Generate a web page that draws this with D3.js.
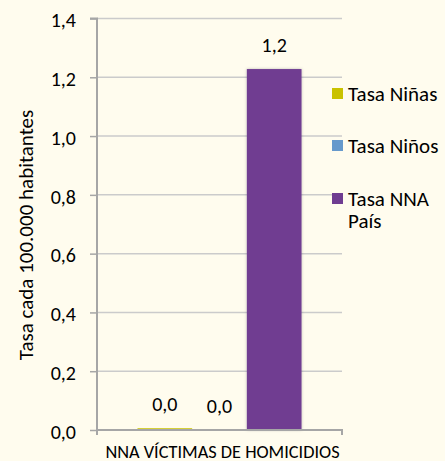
<!DOCTYPE html>
<html>
<head>
<meta charset="utf-8">
<script src="https://cdn.jsdelivr.net/npm/d3@7"></script>
<style>
html,body{margin:0;padding:0;background:#fffcee;}
svg{display:block;}
text{font-family:Carlito, Calibri, sans-serif;fill:#000;}
</style>
</head>
<body>
<svg id="chart" width="445" height="461"></svg>
<script>
const categories = ["NNA VÍCTIMAS DE HOMICIDIOS"];
const seriesNames = ["Tasa Niñas", "Tasa Niños", "Tasa NNA País"];
const seriesValues = [0.006, 0.0, 1.228];
const valueLabels = ["0,0", "0,0", "1,2"];
const yTicks = [0, 0.2, 0.4, 0.6, 0.8, 1.0, 1.2, 1.4];
const yTickLabels = ["0,0", "0,2", "0,4", "0,6", "0,8", "1,0", "1,2", "1,4"];
const colors = ["#c9c200", "#6699cc", "#6f3c91"];
const yTitle = "Tasa cada 100.000 habitantes";

(function () {
const FONT = "Carlito, Calibri, sans-serif";
const svg = d3.select("#chart");
svg.append("rect").attr("width", 445).attr("height", 461).attr("fill", "#fffcee");

const pL = 97, pR = 342, pT = 18.5, pB = 430;
const y = d3.scaleLinear().domain([0, 1.4]).range([pB, pT]);
const x0 = d3.scaleBand().domain(categories).range([pL, pR]).padding(0);
const x1 = d3.scaleBand().domain(seriesNames).range([0, x0.bandwidth()]).paddingInner(0).paddingOuter(0.74);

// gridlines
svg.append("g").selectAll("line").data(yTicks.filter(d => d > 0)).join("line")
  .attr("x1", pL).attr("x2", pR)
  .attr("y1", d => y(d)).attr("y2", d => y(d))
  .attr("stroke", "#cbcbcb").attr("stroke-width", 1.5);

// y axis
const yAxis = d3.axisLeft(y).tickValues(yTicks).tickFormat((d, i) => yTickLabels[i]).tickSize(7).tickPadding(14);
const gy = svg.append("g").attr("transform", `translate(${pL},0)`).call(yAxis);
gy.select(".domain").attr("stroke", "#a6a6a6").attr("stroke-width", 2).attr("d", `M-7,${pT}H0V${pB}`);
gy.selectAll(".tick line").attr("stroke", "#a6a6a6").attr("stroke-width", 1.5);
gy.selectAll(".tick text").style("font-family", FONT).style("font-size", "20px").attr("fill", "#000").attr("dy", "0.415em");

// bars
const defs = svg.append("defs");
const f = defs.append("filter").attr("id", "sh").attr("x", "-20%").attr("y", "-5%").attr("width", "140%").attr("height", "110%");
f.append("feDropShadow").attr("dx", 0).attr("dy", 0).attr("stdDeviation", 1.5).attr("flood-color", "#000").attr("flood-opacity", 0.25);

const g = svg.append("g").selectAll("g").data(categories).join("g")
  .attr("transform", d => `translate(${x0(d)},0)`);
g.selectAll("rect").data(seriesNames.map((s, i) => ({s, v: seriesValues[i], c: colors[i]}))).join("rect")
  .attr("x", d => x1(d.s)).attr("width", x1.bandwidth())
  .attr("y", d => y(d.v)).attr("height", d => y(0) - y(d.v))
  .attr("fill", d => d.c).attr("filter", d => d.v > 0.5 ? "url(#sh)" : null);

// x axis
const xAxis = d3.axisBottom(x0).tickSize(0);
const gx = svg.append("g").attr("transform", `translate(0,${pB})`).call(xAxis);
gx.select(".domain").attr("stroke", "#a6a6a6").attr("stroke-width", 2).attr("d", `M${pL},5V0H${pR}V5`);
gx.selectAll(".tick text").style("font-family", FONT).style("font-size", "18.3px").attr("fill", "#000")
  .attr("x", 3).attr("y", 28).attr("dy", 0);

// value labels
g.selectAll("text.vl").data(seriesNames.map((s, i) => ({s, v: seriesValues[i], l: valueLabels[i]}))).join("text")
  .attr("class", "vl")
  .attr("x", d => x1(d.s) + x1.bandwidth() / 2)
  .attr("y", d => y(d.v) - 17)
  .attr("text-anchor", "middle").style("font-size", "20px")
  .text(d => d.l);

// y title
svg.append("text")
  .attr("transform", `translate(33,235) rotate(-90)`)
  .attr("text-anchor", "middle").style("font-size", "21px")
  .text(yTitle);

// legend
const legendY = [93.5, 145.5, 198.5];
const lg = svg.append("g");
seriesNames.forEach((s, i) => {
  lg.append("rect").attr("x", 332).attr("y", legendY[i] - 5.5).attr("width", 11).attr("height", 11).attr("fill", colors[i]);
  const words = s === "Tasa NNA País" ? ["Tasa NNA", "País"] : [s];
  const t = lg.append("text").attr("x", 348).attr("y", legendY[i] + 7.5).style("font-size", "21px");
  words.forEach((w, j) => t.append("tspan").attr("x", 348).attr("dy", j === 0 ? 0 : 22).text(w));
});
})();
</script>
</body>
</html>
